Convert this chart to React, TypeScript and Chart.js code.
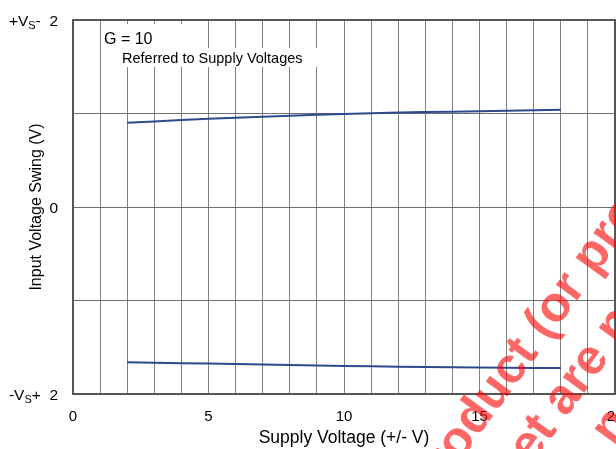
import React, { useEffect, useRef } from "react";
import { Chart, registerables } from "chart.js";

Chart.register(...registerables);

const supplyVoltage = [2, 4, 6, 8, 10, 12, 14, 16, 18];
const upperSwing = [0.9, 0.93, 0.955, 0.975, 0.995, 1.01, 1.02, 1.03, 1.04];
const lowerSwing = [-1.66, -1.67, -1.68, -1.69, -1.7, -1.708, -1.715, -1.72, -1.722];

const yTickLabels: { value: number; parts: [string, string, string] }[] = [
  { value: 2, parts: ["+V", "S", "-  2"] },
  { value: 0, parts: ["", "", "0"] },
  { value: -2, parts: ["-V", "S", "+  2"] },
];

const noteLines = ["G = 10", "Referred to Supply Voltages"];
// watermark lines: [text before anchor, text from anchor]
const watermarkLines: [string, string][] = [
  ["This ", "product (or products)"],
  ["in this data ", "sheet are no longer"],
  ["", "not recommended"],
];

const FONT = "'Liberation Sans', Arial, Helvetica, sans-serif";

const overlayPlugin = {
  id: "overlay",
  beforeDatasetsDraw(chart: any) {
    const ctx = chart.ctx;
    const a = chart.chartArea;
    ctx.save();
    ctx.strokeStyle = "#555555";
    ctx.lineWidth = 2;
    ctx.strokeRect(a.left, a.top, a.right - a.left, a.bottom - a.top);
    ctx.fillStyle = "#ffffff";
    ctx.fillRect(103, 24, 100, 24);
    ctx.fillRect(113, 48, 212, 19);
    ctx.fillStyle = "#000000";
    ctx.textBaseline = "alphabetic";
    ctx.textAlign = "left";
    ctx.font = `16px ${FONT}`;
    ctx.fillText(noteLines[0], 104, 44);
    ctx.font = `14.5px ${FONT}`;
    ctx.fillText(noteLines[1], 122, 63);
    ctx.restore();
  },
  afterDraw(chart: any) {
    const ctx = chart.ctx;
    const yScale = chart.scales.y;
    ctx.save();
    ctx.fillStyle = "#000000";
    ctx.textBaseline = "alphabetic";
    ctx.textAlign = "left";
    for (const t of yTickLabels) {
      const y = yScale.getPixelForValue(t.value);
      ctx.font = `15.5px ${FONT}`;
      const w1 = ctx.measureText(t.parts[0]).width;
      const w3 = ctx.measureText(t.parts[2]).width;
      ctx.font = `11px ${FONT}`;
      const w2 = ctx.measureText(t.parts[1]).width;
      const right = 58;
      let x = right - (w1 + w2 + w3);
      const base = y + 5.5;
      ctx.font = `15.5px ${FONT}`;
      ctx.fillText(t.parts[0], x, base);
      x += w1;
      ctx.font = `11px ${FONT}`;
      ctx.fillText(t.parts[1], x, base + 3);
      x += w2;
      ctx.font = `15.5px ${FONT}`;
      ctx.fillText(t.parts[2], x, base);
    }
    // watermark
    ctx.fillStyle = "rgba(255,0,0,0.6)";
    ctx.font = `bold 50px ${FONT}`;
    const angle = (-54 * Math.PI) / 180;
    const dx = Math.cos(angle);
    const dy = Math.sin(angle);
    const anchors = [
      [430, 503],
      [481, 535],
      [614, 447],
    ];
    watermarkLines.forEach((line, i) => {
      const pre = ctx.measureText(line[0]).width;
      ctx.save();
      ctx.translate(anchors[i][0] - pre * dx, anchors[i][1] - pre * dy);
      ctx.rotate(angle);
      ctx.fillText(line[0] + line[1], 0, 0);
      ctx.restore();
    });
    ctx.restore();
  },
};

export default function App() {
  const ref = useRef<HTMLCanvasElement>(null);
  useEffect(() => {
    document.body.style.margin = "0";
    const chart = new Chart(ref.current!, {
      type: "line",
      data: {
        datasets: [
          {
            label: "upper",
            data: supplyVoltage.map((x, i) => ({ x, y: upperSwing[i] })),
            borderColor: "#2c4a8c",
            borderWidth: 2,
            pointRadius: 0,
            tension: 0.4,
            fill: false,
          },
          {
            label: "lower",
            data: supplyVoltage.map((x, i) => ({ x, y: lowerSwing[i] })),
            borderColor: "#2c4a8c",
            borderWidth: 2,
            pointRadius: 0,
            tension: 0.4,
            fill: false,
          },
        ],
      },
      options: {
        animation: false,
        responsive: false,
        layout: { padding: { top: 20, right: 1, left: 0, bottom: 0 } },
        plugins: { legend: { display: false }, tooltip: { enabled: false } },
        scales: {
          x: {
            type: "linear",
            min: 0,
            max: 20,
            ticks: {
              stepSize: 1,
              autoSkip: false,
              maxRotation: 0,
              padding: 14,
              color: "#000",
              font: { family: FONT, size: 15 },
              callback: (v: any) => (Number(v) % 5 === 0 ? String(v) : ""),
            },
            grid: { color: "#808080", lineWidth: 1, drawTicks: false },
            border: { display: false },
            title: {
              display: true,
              text: "Supply Voltage (+/- V)",
              color: "#000",
              font: { family: FONT, size: 17.5 },
              padding: { top: 2, bottom: 0 },
            },
            afterFit: (s: any) => {
              s.height = 55;
              s.paddingLeft = 0;
              s.paddingRight = 0;
            },
          },
          y: {
            type: "linear",
            min: -2,
            max: 2,
            ticks: {
              stepSize: 1,
              callback: () => "",
            },
            grid: { color: "#6e6e6e", lineWidth: 1, drawTicks: false },
            border: { display: false },
            title: {
              display: true,
              text: "Input Voltage Swing (V)",
              color: "#000",
              font: { family: FONT, size: 16 },
              padding: { top: 27, bottom: 0 },
            },
            afterFit: (s: any) => {
              s.width = 73;
              s.paddingTop = 0;
              s.paddingBottom = 0;
            },
          },
        },
      },
      plugins: [overlayPlugin],
    } as any);
    return () => chart.destroy();
  }, []);
  return <canvas ref={ref} width={616} height={449} style={{ display: "block" }} />;
}
